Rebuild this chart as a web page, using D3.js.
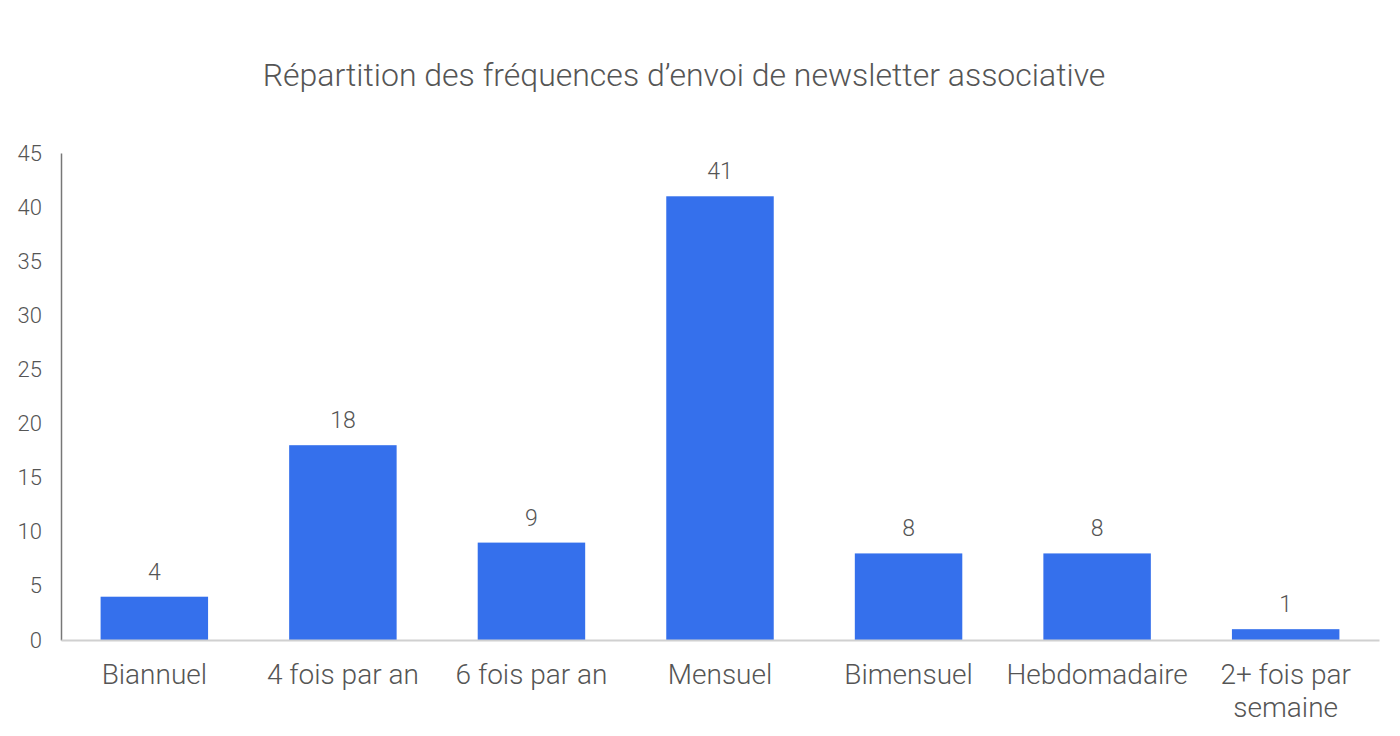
<!DOCTYPE html>
<html>
<head>
<meta charset="utf-8">
<script src="https://cdn.jsdelivr.net/npm/d3@7"></script>
<style>
  body { margin: 0; background: #fff; }
  text { font-family: Roboto, "Noto Sans", sans-serif; font-weight: 300; fill: #555; }
</style>
</head>
<body>
<div id="chart"></div>
<script>
// data
var categories = ["Biannuel", "4 fois par an", "6 fois par an", "Mensuel", "Bimensuel", "Hebdomadaire", "2+ fois par semaine"];
var values = [4, 18, 9, 41, 8, 8, 1];
var yTicks = [0, 5, 10, 15, 20, 25, 30, 35, 40, 45];
var title = "Répartition des fréquences d’envoi de newsletter associative";

var svgWidth = 1400;
var svgHeight = 736;

var margin = { top: 153, right: 20, bottom: 96, left: 61 };
var chartWidth = 1379 - margin.left;
var chartHeight = svgHeight - margin.top - margin.bottom;

var svg = d3.select("#chart")
    .append("svg")
    .attr("width", svgWidth)
    .attr("height", svgHeight);

svg.append("text")
    .attr("x", 684)
    .attr("y", 86)
    .attr("text-anchor", "middle")
    .style("font-size", "32px")
    .text(title);

var chartGroup = svg.append("g")
    .attr("transform", `translate(${margin.left}, ${margin.top})`);

var xScale = d3.scaleBand()
    .domain(categories)
    .range([0, chartWidth])
    .paddingInner(0.43)
    .paddingOuter(0.21);

var yScale = d3.scaleLinear()
    .domain([0, 45])
    .range([chartHeight, 0]);

// bars
chartGroup.selectAll(".bar")
    .data(values)
    .enter()
    .append("rect")
    .attr("class", "bar")
    .attr("x", (d, i) => xScale(categories[i]))
    .attr("y", d => yScale(d))
    .attr("width", xScale.bandwidth())
    .attr("height", d => chartHeight - yScale(d))
    .attr("fill", "#3570ec");

// value labels
chartGroup.selectAll(".val")
    .data(values)
    .enter()
    .append("text")
    .attr("class", "val")
    .attr("x", (d, i) => xScale(categories[i]) + xScale.bandwidth() / 2)
    .attr("y", d => yScale(d) - 17)
    .attr("text-anchor", "middle")
    .style("font-size", "23px")
    .text(d => d);

// y axis
var leftAxis = d3.axisLeft(yScale).tickValues(yTicks).tickSize(0).tickPadding(19);
var yAxis = chartGroup.append("g").call(leftAxis);
yAxis.select(".domain").attr("stroke", "#777").attr("stroke-width", 1.5);
yAxis.selectAll("text").style("font-size", "22px").attr("fill", "#555");

// x axis
var bottomAxis = d3.axisBottom(xScale).tickSize(0).tickPadding(24);
var xAxis = chartGroup.append("g")
    .attr("transform", `translate(0, ${chartHeight})`)
    .call(bottomAxis);
xAxis.select(".domain").attr("stroke", "#d0d0d0").attr("stroke-width", 2);
xAxis.selectAll("text")
    .style("font-size", "28px")
    .attr("fill", "#555")
    .each(function(d) {
        var t = d3.select(this);
        if (d === "2+ fois par semaine") {
            t.text(null);
            t.append("tspan").attr("x", 0).attr("dy", "0.71em").text("2+ fois par");
            t.append("tspan").attr("x", 0).attr("dy", "1.17em").text("semaine");
            t.attr("dy", null);
        }
    });
</script>
</body>
</html>
